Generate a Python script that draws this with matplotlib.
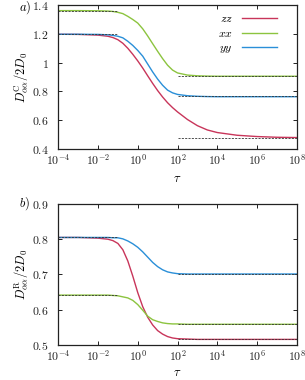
import numpy as np
import matplotlib
matplotlib.use('Agg')
import matplotlib.pyplot as plt
from matplotlib.ticker import FixedLocator, FixedFormatter

plt.rcParams['mathtext.fontset'] = 'cm'
plt.rcParams['font.family'] = 'serif'
plt.rcParams['font.serif'] = ['DejaVu Serif']

# log10(tau) sample points
log_tau = [-4, -3, -2, -1.5, -1.25, -1, -0.75, -0.5, -0.25, 0, 0.25, 0.5, 0.75,
           1, 1.25, 1.5, 1.75, 2, 2.5, 3, 3.5, 4, 5, 6, 7, 8]

# panel a) D^C / 2D0
c_zz = [1.198, 1.197, 1.192, 1.184, 1.175, 1.160, 1.135, 1.100, 1.058, 1.012, 0.962, 0.908, 0.855,
        0.805, 0.760, 0.720, 0.686, 0.656, 0.603, 0.560, 0.530, 0.512, 0.493, 0.484, 0.479, 0.477]
c_xx = [1.363, 1.363, 1.362, 1.360, 1.357, 1.351, 1.342, 1.323, 1.301, 1.276, 1.236, 1.186, 1.132,
        1.079, 1.028, 0.982, 0.948, 0.928, 0.913, 0.908, 0.906, 0.905, 0.905, 0.905, 0.905, 0.905]
c_yy = [1.198, 1.198, 1.197, 1.194, 1.190, 1.184, 1.173, 1.149, 1.120, 1.085, 1.045, 0.990, 0.935,
        0.885, 0.842, 0.808, 0.789, 0.778, 0.769, 0.765, 0.763, 0.762, 0.762, 0.762, 0.762, 0.762]

# panel b) D^R / 2D0
r_zz = [0.805, 0.805, 0.803, 0.800, 0.796, 0.788, 0.770, 0.738, 0.695, 0.648, 0.608, 0.578, 0.556,
        0.540, 0.530, 0.523, 0.519, 0.517, 0.516, 0.515, 0.515, 0.515, 0.515, 0.515, 0.515, 0.515]
r_xx = [0.641, 0.641, 0.641, 0.641, 0.640, 0.639, 0.636, 0.633, 0.626, 0.614, 0.598, 0.581, 0.571,
        0.566, 0.562, 0.560, 0.559, 0.559, 0.558, 0.558, 0.558, 0.558, 0.558, 0.558, 0.558, 0.558]
r_yy = [0.805, 0.805, 0.805, 0.805, 0.804, 0.804, 0.801, 0.795, 0.787, 0.777, 0.764, 0.749, 0.734,
        0.722, 0.713, 0.707, 0.704, 0.702, 0.701, 0.701, 0.701, 0.701, 0.701, 0.701, 0.701, 0.701]

# asymptotes (dashed)
c_short = [1.36, 1.2]
c_long = [0.905, 0.765, 0.475]
r_short = [0.805, 0.64]
r_long = [0.702, 0.558, 0.515]

red = '#c8355a'
green = '#8cc43f'
blue = '#2a8fd8'

tau = 10.0 ** np.array(log_tau)

fig = plt.figure(figsize=(3.05, 3.8), dpi=100)
ax1 = fig.add_axes([0.191, 0.609, 0.782, 0.377])
ax2 = fig.add_axes([0.191, 0.093, 0.782, 0.370])


def style(ax, yticks, ylabels, xpad):
    ax.set_xscale('log')
    ax.set_xlim(1e-4, 1e8)
    ax.xaxis.set_major_locator(FixedLocator([1e-4, 1e-2, 1e0, 1e2, 1e4, 1e6, 1e8]))
    ax.xaxis.set_major_formatter(FixedFormatter([r'$10^{-4}$', r'$10^{-2}$', r'$10^{0}$', r'$10^{2}$',
                                                 r'$10^{4}$', r'$10^{6}$', r'$10^{8}$']))
    ax.xaxis.set_minor_locator(FixedLocator([]))
    ax.set_yticks(yticks)
    ax.set_yticklabels(['$' + s + '$' for s in ylabels])
    ax.tick_params(direction='in', top=True, right=True, length=3, width=0.7,
                   labelsize=8.5, colors='#222222')
    ax.tick_params(axis='x', pad=3)
    ax.tick_params(axis='y', pad=7)
    for s in ax.spines.values():
        s.set_linewidth(0.9)
        s.set_color('#222222')
    ax.set_xlabel(r'$\tau$', fontsize=9, labelpad=xpad)


lw = 1.0
dash = dict(color='#333333', lw=0.6, ls=(0, (2.5, 1.5)), zorder=3)

ax1.plot(tau, c_zz, color=red, lw=lw, label=r'$zz$')
ax1.plot(tau, c_xx, color=green, lw=lw, label=r'$xx$')
ax1.plot(tau, c_yy, color=blue, lw=lw, label=r'$yy$')
for v in c_short:
    ax1.plot([1e-4, 1e-1], [v, v], **dash)
for v in c_long:
    ax1.plot([1e2, 1e8], [v, v], **dash)
ax1.set_ylim(0.4, 1.4)
style(ax1, [0.4, 0.6, 0.8, 1.0, 1.2, 1.4], ['0.4', '0.6', '0.8', '1', '1.2', '1.4'], 3)
ax1.set_ylabel(r'$D^{\rm C}_{\alpha\alpha}/2D_0$', fontsize=9, labelpad=1)
ax1.legend(loc='upper right', markerfirst=False, frameon=False, fontsize=8.5,
           handlelength=2.9, handletextpad=0.8, labelspacing=0.12,
           borderaxespad=0.2, bbox_to_anchor=(0.945, 1.0))
fig.text(0.062, 0.98, r'$a)$', fontsize=9, ha='left', va='center')

ax2.plot(tau, r_zz, color=red, lw=lw)
ax2.plot(tau, r_xx, color=green, lw=lw)
ax2.plot(tau, r_yy, color=blue, lw=lw)
for v in r_short:
    ax2.plot([1e-4, 1e-1], [v, v], **dash)
for v in r_long:
    ax2.plot([1e2, 1e8], [v, v], **dash)
ax2.set_ylim(0.5, 0.9)
style(ax2, [0.5, 0.6, 0.7, 0.8, 0.9], ['0.5', '0.6', '0.7', '0.8', '0.9'], 1.5)
ax2.set_ylabel(r'$D^{\rm R}_{\alpha\alpha}/2D_0$', fontsize=9, labelpad=1)
fig.text(0.062, 0.463, r'$b)$', fontsize=9, ha='left', va='center')

fig.savefig('out.png', dpi=100)
